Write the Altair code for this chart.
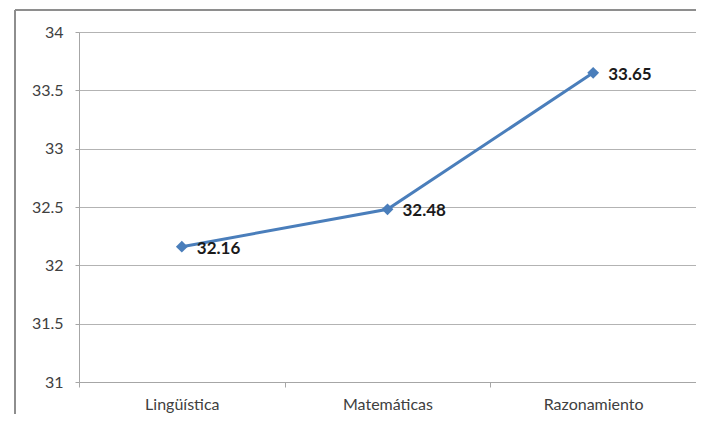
import altair as alt
import pandas as pd

categories = ["Lingüística", "Matemáticas", "Razonamiento"]
values = [32.16, 32.48, 33.65]
y_ticks = [31, 31.5, 32, 32.5, 33, 33.5, 34]

df = pd.DataFrame({"cat": categories, "val": values})

W, H = 617, 350
FONT = "Lato"

x_enc = alt.X("cat:N", sort=categories, bandPosition=0.5,
              scale=alt.Scale(type="band", paddingInner=0, paddingOuter=0),
              axis=alt.Axis(title=None, labelAngle=0, grid=False, tickBand="extent",
                            domainColor="#a6a6a6", tickColor="#a6a6a6", tickSize=5,
                            labelFontSize=16, labelColor="#404040", labelFont=FONT,
                            labelPadding=9))
y_enc = alt.Y("val:Q", scale=alt.Scale(domain=[31, 34], nice=False, zero=False),
              axis=alt.Axis(title=None, values=y_ticks, format=".1~f",
                            gridColor="#b3b3b3", domainColor="#a6a6a6", tickColor="#a6a6a6",
                            tickSize=4, labelFontSize=16, labelColor="#404040",
                            labelFont=FONT, labelPadding=12))

frame_top = alt.Chart(df).mark_rule(stroke="#8c8c8c", strokeWidth=1.5).encode(
    x=alt.value(-64), x2=alt.value(W), y=alt.value(-22))
frame_left = alt.Chart(df).mark_rule(stroke="#8c8c8c", strokeWidth=1.5).encode(
    x=alt.value(-64), y=alt.value(-22), y2=alt.value(H + 32))

line = alt.Chart(df).mark_line(color="#4a7ebb", strokeWidth=3).encode(x=x_enc, y=y_enc)
pts = alt.Chart(df).mark_point(shape="diamond", filled=True, size=140, color="#4a7ebb",
                               opacity=1).encode(x=x_enc, y=y_enc)
labels = alt.Chart(df).mark_text(align="left", dx=15, dy=2, fontWeight="bold", fontSize=17,
                                 font=FONT, color="#1a1a1a").encode(
    x=x_enc, y=y_enc, text=alt.Text("val:Q", format=".2f"))

chart = alt.layer(frame_top, frame_left, line, pts, labels).properties(
    width=W, height=H, autosize=alt.AutoSizeParams(type="none"),
    padding={"left": 71, "top": 24, "right": 0, "bottom": 32}
).configure_view(stroke=None).configure(background="white")

chart.save("out.html", embed_options={"renderer": "svg", "actions": False})
